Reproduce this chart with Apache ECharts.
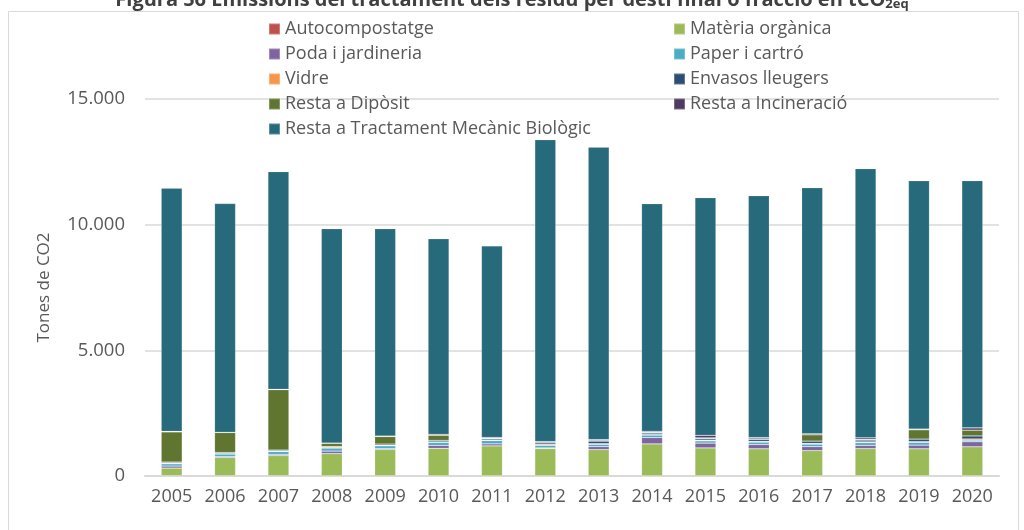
<!DOCTYPE html>
<html><head><meta charset="utf-8">
<script src="https://cdn.jsdelivr.net/npm/echarts@6/dist/echarts.min.js"></script>
<style>html,body{margin:0;padding:0;background:#fff}#c{width:1024px;height:530px}</style>
</head><body><div id="c"></div>
<script>
const years = ['2005','2006','2007','2008','2009','2010','2011','2012','2013','2014','2015','2016','2017','2018','2019','2020'];
const autocompostatge = [15,12,12,10,10,8,8,8,8,8,8,8,8,8,8,8];
const materiaOrganica = [300,720,800,880,1040,1090,1190,1080,1040,1270,1110,1075,1000,1080,1075,1155];
const poda = [80,40,50,100,40,120,80,30,120,250,190,170,160,130,145,200];
const paper = [90,100,110,120,110,120,130,100,90,100,90,95,100,110,110,60];
const vidre = [30,20,20,40,20,20,20,40,30,20,30,30,30,30,30,50];
const envasos = [40,40,40,20,50,60,50,60,100,60,60,80,90,70,100,120];
const restaDiposit = [1200,800,2400,130,300,200,20,10,20,30,30,20,250,30,370,230];
const restaIncineracio = [20,10,20,10,20,40,40,40,40,40,100,50,40,60,30,90];
const restaTMB = [9680,9100,8660,8530,8250,7780,7620,12010,11630,9055,9455,9625,9790,10710,9880,9835];
const yTicks = [0,5000,10000,15000];

const FONT = '"Open Sans", "Noto Sans", sans-serif';
const seriesDefs = [
  ['Autocompostatge', autocompostatge, '#C0504D'],
  ['Matèria orgànica', materiaOrganica, '#9BBB59'],
  ['Poda i jardineria', poda, '#8064A2'],
  ['Paper i cartró', paper, '#4BACC6'],
  ['Vidre', vidre, '#F79646'],
  ['Envasos lleugers', envasos, '#2C4D75'],
  ['Resta a Dipòsit', restaDiposit, '#5F7530'],
  ['Resta a Incineració', restaIncineracio, '#4D3B62'],
  ['Resta a Tractament Mecànic Biològic', restaTMB, '#276A7C']
];
const chart = echarts.init(document.getElementById('c'), null, {renderer:'canvas'});
const legendCommon = {
  orient:'vertical', top: 15, itemWidth: 11, itemHeight: 11, itemGap: 7,
  icon: 'rect', selectedMode:false,
  textStyle:{fontFamily:FONT, fontSize:18, lineHeight:18, color:'#595959', padding:[0,0,0,0]}
};
chart.setOption({
  animation:false,
  title:{
    text:'Figura 56 Emissions del tractament dels residu per destí final o fracció en tCO{s|2eq}',
    left:'center', top:-15,
    textStyle:{fontFamily:FONT, fontSize:20, fontWeight:'bold', color:'#404040',
      rich:{s:{fontFamily:FONT, fontSize:13, fontWeight:'bold', color:'#404040', verticalAlign:'bottom', padding:[8,0,0,0]}}}
  },
  graphic:[{type:'rect', shape:{x:8.5,y:11.5,width:1010,height:530}, style:{fill:'none', stroke:'#d9d9d9', lineWidth:1}, silent:true, z:-1}],
  legend:[
    Object.assign({left:263, data:[seriesDefs[0][0],seriesDefs[2][0],seriesDefs[4][0],seriesDefs[6][0],seriesDefs[8][0]]}, legendCommon),
    Object.assign({left:668, data:[seriesDefs[1][0],seriesDefs[3][0],seriesDefs[5][0],seriesDefs[7][0]]}, legendCommon)
  ],
  grid:{left:145, right:25, top:99, bottom:54},
  xAxis:{type:'category', data:years,
    axisLine:{lineStyle:{color:'#d9d9d9', width:2}}, axisTick:{show:false},
    axisLabel:{interval:0, fontFamily:FONT, fontSize:18, color:'#595959', margin:12}},
  yAxis:{type:'value', min:yTicks[0], max:yTicks[yTicks.length-1], interval:5000,
    name:'Tones de CO2', nameLocation:'middle', nameGap:92,
    nameTextStyle:{fontFamily:FONT, fontSize:17, color:'#595959'},
    axisLine:{show:false}, axisTick:{show:false},
    axisLabel:{fontFamily:FONT, fontSize:18.5, color:'#595959', margin:20,
      formatter:v=>v.toLocaleString('de-DE')},
    splitLine:{lineStyle:{color:'#d9d9d9', width:1.5}}},
  series: seriesDefs.map(([name,data,color])=>({
    name, type:'bar', stack:'total', data, barWidth:21,
    itemStyle:{color, borderColor:'rgba(255,255,255,0.25)', borderWidth:0.6}
  }))
});
</script></body></html>
